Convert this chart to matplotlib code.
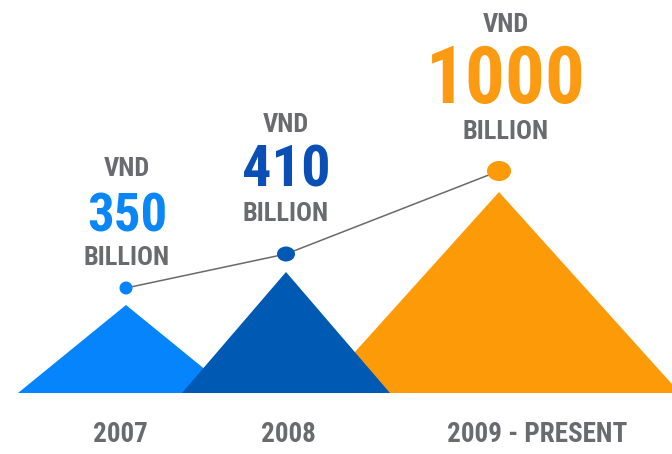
import matplotlib
matplotlib.use('Agg')
import matplotlib.pyplot as plt
from matplotlib import font_manager
from matplotlib.patches import Polygon, Ellipse

# data
periods = ["2007", "2008", "2009 - PRESENT"]
amounts = ["350", "410", "1000"]
currency = "VND"
unit = "BILLION"
peak_heights = [88, 121, 201]  # mountain height above the baseline

# layout (axis units ~ pixels)
centers = [126, 286, 499]
half_widths = [108, 104, 181]
dot_gap = [17, 18, 21]
dot_sizes = [(13, 13), (18, 15), (24, 20)]
colors = ['#0584FB', '#0059B3', '#FD9A08']
text_colors = ['#0A86F7', '#0A4FB6', '#FC9B12']
grey = '#6A6B6E'

installed = {f.name for f in font_manager.fontManager.ttflist}
family = 'DejaVu Sans'
for cand in ['Liberation Sans Narrow', 'Roboto Condensed', 'Open Sans Condensed', 'DejaVu Sans Condensed']:
    if cand in installed:
        family = cand
        break
narrow = family != 'DejaVu Sans'

fig = plt.figure(figsize=(6.72, 4.54), dpi=100)
ax = fig.add_axes([0, 0, 1, 1])
ax.set_xlim(0, 672)
ax.set_ylim(-61, 393)
ax.axis('off')

# mountains: light blue and orange behind, dark blue on top
for i in [0, 2, 1]:
    c, h, w = centers[i], peak_heights[i], half_widths[i]
    ax.add_patch(Polygon([(c - w, 0), (c, h), (c + w, 0)], closed=True,
                         facecolor=colors[i], edgecolor='none', zorder=1 + (i == 1)))

dot_y = [h + g for h, g in zip(peak_heights, dot_gap)]
ax.plot(centers, dot_y, color='#6A6A6A', lw=1.1, zorder=3)
for i in range(3):
    ax.add_patch(Ellipse((centers[i], dot_y[i]), dot_sizes[i][0], dot_sizes[i][1],
                         facecolor=colors[i], edgecolor='none', zorder=4))

k = 1.0 if narrow else 0.8
txt = dict(family=family, weight='bold', ha='center', va='center')
big = [38, 42, 57]
small = [19, 19, 19]
text_x = [127, 286, 506]
vnd_y = [224, 268, 368]
num_y = [176, 222, 312]
bil_y = [135, 179, 261]
for i in range(3):
    ax.text(text_x[i], vnd_y[i], currency, color=grey, fontsize=small[i] * k, **txt)
    ax.text(text_x[i], num_y[i], amounts[i], color=text_colors[i], fontsize=big[i] * k, **txt)
    ax.text(text_x[i], bil_y[i], unit, color=grey, fontsize=small[i] * k, **txt)

label_x = [120, 288, 537]
for x, p in zip(label_x, periods):
    ax.text(x, -42, p, color=grey, fontsize=19.5 * k, **txt)

fig.savefig('out.png', dpi=100)
